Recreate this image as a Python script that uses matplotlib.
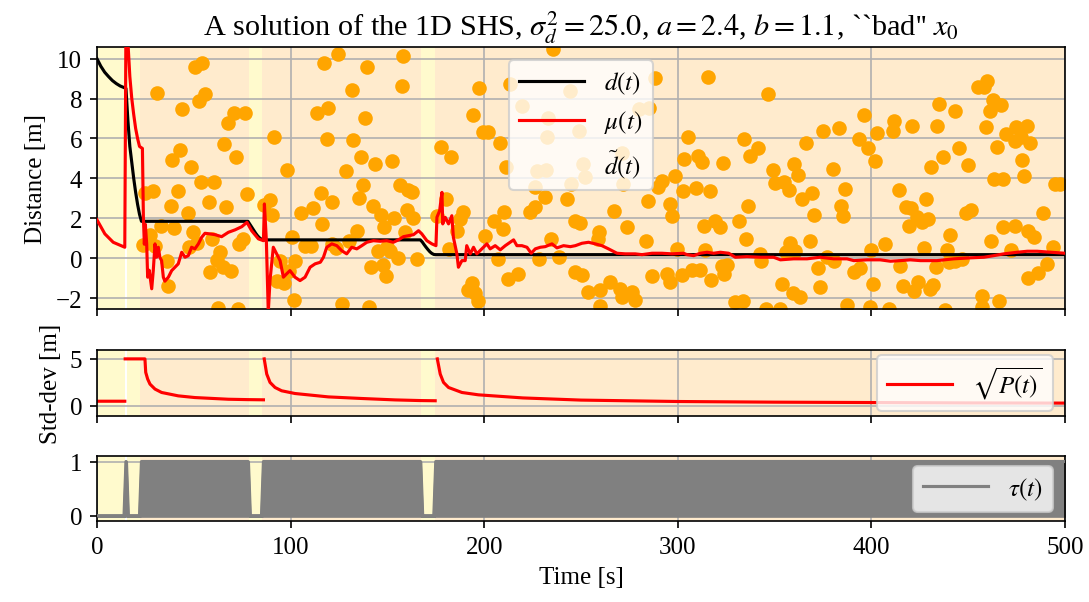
import matplotlib.pyplot as plt
import numpy as np
from matplotlib.lines import Line2D

plt.rcParams['font.family'] = ['Liberation Serif', 'DejaVu Serif']
plt.rcParams['mathtext.fontset'] = 'stix'
plt.rcParams['xtick.labelsize'] = 12
plt.rcParams['ytick.labelsize'] = 12
plt.rcParams['axes.labelsize'] = 12

# true distance d(t)
d_t = [0, 2, 4, 6, 8, 10, 12, 14, 15, 16, 17, 18, 19, 20, 21, 22, 23, 78, 79, 80, 81, 82,
       83, 84, 85, 86, 167, 168, 169, 170, 171, 172, 173, 174, 175, 500]
d_v = [10.0, 9.62, 9.32, 9.1, 8.9, 8.75, 8.63, 8.55, 8.5, 6.9, 5.6, 4.8, 4.0, 3.3, 2.7, 2.2, 1.85, 1.85,
       1.7, 1.55, 1.4, 1.25, 1.12, 1.02, 0.95, 0.92, 0.92, 0.82, 0.68, 0.55, 0.43, 0.32, 0.24, 0.19, 0.18, 0.18]

# estimate mu(t)
mu_t = [0, 4.1, 8.4, 14.4, 15, 16.2, 17, 18, 19, 20, 21, 22, 23.5, 24, 24.5, 25, 25.7, 26.2, 27, 27.5,
        28.3, 29.1, 30, 30.8, 31.7, 32.5, 33.4, 34.3, 35.1, 36.9, 38.6, 40.3, 42, 43.8, 45.5, 47.2,
        48.9, 50.6, 52.4, 54.1, 55.8, 58.4, 61, 64.4, 67.9, 71.3, 74.8, 77.5, 79.9, 83.4, 86, 86.5,
        87.5, 88.5, 89.4, 91.1, 92.8, 94.6, 96.3, 98, 99.7, 102.3, 104.9, 107.5, 110.1, 112.7, 115.4,
        117, 118.7, 121.3, 123.9, 126.4, 129, 131.6, 134.2, 136.8, 139.4, 142.8, 146.3, 149.7, 153.1,
        155.7, 158.3, 160.9, 163.5, 166.1, 167.8, 170.4, 173, 175.1, 175.6, 177, 178.2, 178.6, 179.9,
        181.6, 183.3, 184.1, 185.9, 186.7, 188.5, 190.2, 191, 192.8, 194.5, 196.2, 198.8, 201.4,
        203.1, 205.7, 208.3, 210.9, 213.4, 215.2, 216.9, 219.5, 222.1, 224.3, 226.4, 229, 231.5, 235,
        237.6, 241, 244.5, 247.1, 250.5, 253.9, 257.4, 260.8, 264.2, 268.6, 272.9, 278, 281.5, 286.7,
        291.8, 297, 303, 304.7, 308.2, 311.6, 315.1, 318.5, 322, 326.3, 329.7, 335.7, 342.6, 349.5,
        353, 359.8, 366.7, 373.6, 380.5, 387.4, 390.9, 397.8, 404.5, 409.8, 415, 420.1, 425.3, 433.9,
        442.5, 451.2, 458.1, 463.2, 468.4, 475.3, 480.5, 485.6, 492.5, 500]
mu_v = [1.93, 1.22, 0.8, 0.55, 12.0, 10.5, 9.1, 8.0, 7.2, 6.5, 6.0, 5.6, 5.5, 2.05, 0.7, 1.7, 0.72, -0.95,
        -0.6, -0.95, -1.53, -0.62, 0.72, 0.05, 0.55, 0.05, -0.12, -0.95, -1.15, -0.95, -0.62, -0.45,
        -0.28, 0.3, 0.05, 0.13, 0.55, 0.47, 0.72, 1.05, 1.25, 1.22, 1.18, 1.08, 1.3, 1.42, 1.58, 1.8,
        1.38, 0.97, 0.88, 2.72, 0.9, -2.7, -1.1, 0.55, 0.22, -0.12, -0.95, -0.78, -0.62, -0.95, -1.12,
        -0.95, -0.45, -0.28, -0.2, 0.05, 0.55, 0.72, 0.63, 0.38, 0.22, 0.55, 0.47, 0.63, 0.8, 0.88,
        0.85, 0.88, 0.8, 0.92, 1.08, 1.13, 1.18, 1.38, 1.22, 0.88, 0.72, 0.63, 2.05, 2.38, 3.3, 1.72,
        2.05, 1.72, 2.13, 1.05, 0.22, -0.45, -0.12, -0.12, 0.63, 0.22, 0.55, 0.22, 0.47, 0.72, 0.47,
        0.63, 0.42, 0.63, 0.8, 0.92, 0.63, 0.63, 0.55, 0.25, 0.47, 0.55, 0.58, 0.72, 0.52, 0.63, 0.58,
        0.63, 0.75, 0.8, 0.72, 0.63, 0.47, 0.25, 0.22, 0.22, 0.18, 0.25, 0.25, 0.22, 0.25, 0.18, 0.13,
        0.25, 0.3, 0.25, 0.3, 0.25, 0.05, 0.08, 0.05, 0.05, -0.08, -0.03, -0.03, 0.05, -0.03, -0.03,
        -0.12, -0.08, -0.08, -0.15, -0.12, -0.08, -0.12, -0.12, -0.03, 0.02, 0.05, 0.13, 0.22, 0.3,
        0.35, 0.35, 0.3, 0.25]

# noisy measurements d~(t)
meas_t = [50.6, 54.4, 30.8, 52.7, 55.8, 43.8, 70.6, 76.5, 67.5, 91.6, 65.8, 42.9, 38.9, 71.8, 48.6,
          98.4, 53.7, 60.6, 24.8, 29.1, 42.0, 77.5, 38.1, 57.9, 66.7, 46.9, 89.4, 86.5, 90.6, 32.9,
          39.8, 27.4, 23.6, 30.0, 49.8, 75.6, 73.6, 59.3, 47.7, 51.5, 36.0, 63.6, 61.8, 65.3, 69.2,
          58.4, 36.9, 100.6, 92.8, 96.8, 99.4, 94.6, 62.7, 72.7, 102.0,
          124.7, 117.5, 139.7, 158.3, 157.4, 131.6, 197.2, 113.5, 119.6, 138.5, 194.4, 199.3, 118.7,
          132.5, 177.8, 182.8, 136.4, 143.7, 152.3, 128.7, 137.6, 156.6, 160.9, 162.6, 115.6, 135.6,
          121.6, 111.5, 105.4, 142.5, 146.6, 160.4, 163.5, 153.5, 116.4, 148.5, 134.3, 159.2, 180.4,
          175.6, 189.3, 187.6, 185.9, 200.5, 130.4, 107.5, 110.4, 121.3, 123.5, 145.4, 151.4, 149.6,
          155.4, 165.2, 102.3, 181.6, 141.4, 147.6, 149.3, 193.6, 191.6, 195.3, 196.7, 126.4, 140.6,
          235.8, 288.0, 213.4, 219.5, 233.2, 244.4, 279.8, 285.3, 232.4, 248.9, 202.2, 208.3, 271.1,
          251.3, 252.2, 227.2, 231.9, 211.2, 226.0, 244.9, 271.8, 231.5, 242.7, 226.3, 223.8, 210.5,
          291.8, 298.7, 290.0, 284.6, 266.8, 296.2, 297.1, 205.3, 209.9, 246.7, 249.6, 273.7, 259.3,
          258.8, 234.6, 283.6, 299.5, 207.4, 228.1, 238.4, 247.0, 250.5, 212.2, 217.7, 286.6, 294.4,
          296.2, 265.0, 259.8, 253.8, 270.1, 276.1, 271.1, 277.9, 259.8,
          315.4, 346.4, 396.0, 375.0, 383.1, 403.0, 305.1, 334.4, 341.4, 393.4, 398.0, 366.2, 337.1,
          303.4, 310.2, 312.5, 323.2, 360.2, 362.1, 349.2, 380.2, 402.0, 350.4, 355.0, 357.3, 302.7,
          309.4, 316.4, 369.3, 364.4, 386.2, 336.3, 384.3, 385.2, 370.2, 319.4, 321.6, 313.3, 331.5,
          335.4, 368.1, 358.1, 360.7, 356.1, 314.2, 342.3, 343.0, 399.8, 377.1, 380.9, 302.2, 307.3,
          311.6, 322.8, 325.4, 324.0, 317.3, 372.6, 391.1, 394.3, 353.8, 359.5, 363.3, 373.3, 400.9,
          329.7, 333.7, 345.7, 353.0, 387.4, 399.1,
          455.0, 459.9, 458.2, 462.9, 467.0, 461.0, 435.1, 443.2, 411.9, 411.0, 421.0, 434.0, 459.0,
          474.8, 480.1, 469.3, 477.0, 473.9, 481.8, 445.1, 464.9, 437.0, 431.0, 450.0, 477.9, 463.5,
          468.0, 478.8, 494.7, 497.3, 414.1, 428.0, 418.1, 420.5, 423.6, 426.2, 429.1, 419.3, 449.1,
          451.2, 488.7, 468.1, 474.1, 481.1, 483.9, 440.8, 462.0, 407.2, 427.1, 439.1, 472.2, 493.9,
          414.9, 433.1, 440.0, 443.4, 446.9, 490.8, 486.1, 480.9, 416.2, 424.1, 422.2, 430.1, 431.8,
          457.2, 465.8, 457.0, 438.2, 409.0]
meas_v = [9.58, 9.8, 8.27, 7.88, 8.25, 7.47, 7.3, 7.27, 6.75, 6.05, 5.72, 5.42, 4.92, 5.08, 4.55,
          4.42, 3.8, 3.8, 3.25, 3.38, 3.38, 3.22, 2.6, 2.83, 2.55, 2.25, 2.93, 2.65, 2.17, 1.63,
          1.5, 1.18, 0.67, 0.63, 1.33, 0.97, 0.72, 0.97, 0.55, 0.75, -0.12, 0.3, -0.08, -0.45, -0.65,
          -0.7, -1.4, 1.08, -1.12, -1.25, -0.62, -0.12, -2.48, -2.53, -2.1,
          10.22, 9.77, 9.58, 10.13, 8.63, 8.43, 8.52, 7.27, 7.55, 7.05, 7.17, 6.3, 5.97,
          5.93, 5.58, 5.05, 5.05, 4.72, 4.85, 4.38, 3.68, 3.68, 3.43, 3.3, 3.25, 3.0,
          2.8, 2.52, 2.27, 2.63, 2.18, 2.42, 2.0, 2.0, 1.72, 1.58, 1.38, 1.3, 2.97,
          2.13, 2.3, 1.97, 1.38, 1.13, 0.88, 0.6, 0.63, 0.72, 0.52, 0.35, 0.38, 0.55,
          0.0, -0.03, -0.12, 0.47, -0.45, -0.32, -0.9, -1.25, -1.57, -1.75, -2.15, -2.28, -2.45,
          10.47, 9.05, 8.72, 7.63, 7.05, 8.38, 7.47, 7.52, 6.08, 6.38, 6.3, 5.75, 5.25,
          4.72, 4.08, 4.38, 4.42, 4.55, 3.55, 3.72, 3.72, 3.08, 2.97, 2.55, 2.3, 2.3,
          3.88, 4.13, 3.55, 2.85, 2.38, 2.72, 2.13, 1.88, 1.47, 1.88, 1.75, 1.58, 1.3,
          0.97, 0.97, 0.88, 0.47, -0.03, -0.03, 0.05, -0.7, -0.82, -1.03, -0.78, -0.87, -0.78,
          -1.2, -1.17, -1.58, -1.7, -1.53, -1.7, -1.95, -2.08, -2.37,
          9.1, 8.25, 7.17, 6.38, 6.52, 6.25, 6.08, 5.97, 5.5, 5.97, 5.52, 5.77, 5.13,
          4.97, 5.1, 4.83, 4.75, 4.72, 4.17, 4.43, 4.47, 4.88, 3.77, 3.8, 3.43, 3.38,
          3.52, 3.38, 3.27, 2.95, 3.47, 2.6, 2.6, 2.13, 2.17, 1.88, 1.55, 1.63, 1.88,
          0.97, 0.88, 0.75, 0.38, 0.3, 0.43, 0.22, -0.12, 0.43, 0.05, -0.12, -0.82, -0.58,
          -0.58, -0.37, -0.32, -0.78, -1.07, -0.5, -0.7, -0.5, -1.28, -1.75, -1.95, -1.45, -1.28,
          -2.2, -2.15, -2.53, -2.53, -2.32, -2.42,
          8.58, 8.88, 8.58, 7.92, 7.67, 7.38, 7.72, 7.38, 6.85, 6.35, 6.63, 6.6, 6.55,
          6.55, 6.6, 6.22, 6.08, 5.88, 5.77, 5.52, 5.55, 5.05, 4.55, 4.67, 4.92, 3.97,
          3.97, 4.13, 3.72, 3.72, 3.43, 2.97, 2.55, 2.52, 2.08, 1.8, 1.97, 1.63, 2.27,
          2.43, 2.27, 1.55, 1.63, 1.38, 1.08, 1.18, 0.88, 0.72, 0.52, 0.42, 0.43, 0.58,
          -0.37, -0.45, -0.2, -0.12, -0.03, -0.28, -0.75, -1.0, -1.37, -1.2, -1.65, -1.53, -1.32,
          -1.87, -2.15, -2.42, -2.58, -2.53]

# std-dev sqrt(P(t)), NaN breaks between segments
sd_t = [0, 14.4, np.nan, 14.6, 24.8, 25.2, 26.2, 27.4, 30, 33.4, 42, 50.6, 67.9, 78, 86, np.nan,
        86.4, 87.7, 89.4, 92, 95.4, 102.3, 119.5, 136.8, 154, 167, 174.7, np.nan,
        175.8, 177.3, 179, 181.6, 188.5, 197, 220, 250, 300, 350, 400, 450, 500]
sd_v = [0.5, 0.5, np.nan, 5, 5, 3.57, 2.86, 2.32, 1.79, 1.43, 1.07, 0.89, 0.71, 0.67, 0.65, np.nan,
        5, 3.39, 2.5, 1.96, 1.61, 1.32, 0.96, 0.79, 0.64, 0.57, 0.55, np.nan,
        5, 3.39, 2.5, 1.96, 1.43, 1.18, 0.85, 0.62, 0.47, 0.4, 0.36, 0.32, 0.3]

# tau(t) switching signal
tau_t = [0, 14, 15, 16, 22, 23, 78, 79, 85, 86, 167, 168, 174, 175, 500]
tau_v = [0, 0, 1, 0, 0, 1, 1, 0, 0, 1, 1, 0, 0, 1, 1]

fig = plt.figure(figsize=(7.26, 4.02), dpi=150)
ax1 = fig.add_axes([0.089, 0.486, 0.889, 0.434])
ax2 = fig.add_axes([0.089, 0.308, 0.889, 0.110], sharex=ax1)
ax3 = fig.add_axes([0.089, 0.134, 0.889, 0.108], sharex=ax1)

# background spans from tau
for ax in (ax1, ax2, ax3):
    for i in range(0, len(tau_t) - 1):
        if tau_v[i] == tau_v[i + 1]:
            lo = tau_t[i] - 0.5 if i > 0 else tau_t[i]
            hi = tau_t[i + 1] + 0.5 if i + 1 < len(tau_t) - 1 else tau_t[i + 1]
            col = 'blanchedalmond' if tau_v[i] == 1 else 'lemonchiffon'
            ax.axvspan(lo, hi, color=col, lw=0, zorder=0)
    ax.grid(True)
    ax.set_axisbelow(True)

ax1.scatter(meas_t, meas_v, color='orange', s=36, zorder=2)
ax1.plot(d_t, d_v, color='black', lw=1.5, zorder=3)
ax1.plot(mu_t, mu_v, color='red', lw=1.5, zorder=4)
ax1.set_ylim(-2.54, 10.57)
ax1.set_yticks([-2, 0, 2, 4, 6, 8, 10])
ax1.set_ylabel('Distance [m]')
handles = [Line2D([], [], color='black', lw=1.5), Line2D([], [], color='red', lw=1.5),
           Line2D([], [], ls='none')]
ax1.legend(handles, ['$d(t)$', r'$\mu(t)$', r'$\tilde{d}(t)$'], loc='upper center',
           fontsize=12, handlelength=2.6)
ax1.set_title(r"A solution of the 1D SHS, $\sigma_d^2 = 25.0$, $a = 2.4$, $b = 1.1$, ``bad'' $x_0$",
              fontsize=14.5)

ax2.plot(sd_t, sd_v, color='red', lw=1.5, label=r'$\sqrt{P(t)}$')
ax2.set_ylim(-1.1, 5.95)
ax2.set_yticks([0, 5])
ax2.set_ylabel('Std-dev [m]')
ax2.legend(loc='center right', fontsize=12, handlelength=2.6)

ax3.fill_between(tau_t, 0, tau_v, facecolor='gray', edgecolor='gray', lw=1.5, zorder=2)
ax3.plot(tau_t, tau_v, color='gray', lw=1.5, label=r'$\tau(t)$', zorder=3)
ax3.set_ylim(-0.1, 1.1)
ax3.set_yticks([0, 1])
ax3.legend(loc='center right', fontsize=12, handlelength=2.6)
ax3.set_xlim(0, 500)
ax3.set_xlabel('Time [s]')

plt.setp(ax1.get_xticklabels(), visible=False)
plt.setp(ax2.get_xticklabels(), visible=False)
fig.align_ylabels([ax1, ax2])

fig.savefig('out.png', dpi=150)
